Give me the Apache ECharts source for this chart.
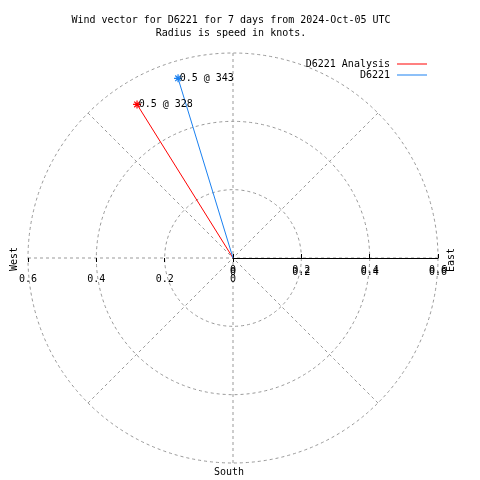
<!DOCTYPE html>
<html><head><meta charset="utf-8">
<script src="https://cdn.jsdelivr.net/npm/echarts@6/dist/echarts.min.js"></script>
<style>html,body{margin:0;padding:0;background:#fff}#c{width:480px;height:480px}</style>
</head><body><div id="c"></div>
<script>
// ---- data ----
const titleLines = ['Wind vector for D6221 for 7 days from 2024-Oct-05 UTC', 'Radius is speed in knots.'];
const seriesNames = ['D6221 Analysis', 'D6221'];
const speeds = [0.53, 0.55];          // knots
const directions = [328, 343];        // degrees (compass)
const pointLabels = ['0.5 @ 328', '0.5 @ 343'];
const radiusMax = 0.6;
const radiusStep = 0.2;
const compassLabels = {west: 'West', east: 'East', south: 'South'};
const colors = ['#ff0000', '#1a80f0'];

// ---- chart ----
const FONT = 'DejaVu Sans Mono';
const C = [233, 258];
const R = 205;
const grey = '#999999';
const asterisk = 'path://M0 5L10 5M5 0L5 10M1.5 1.5L8.5 8.5M8.5 1.5L1.5 8.5';

function radiusAxis(polarIndex, opts) {
  return Object.assign({
    polarIndex: polarIndex, min: 0, max: radiusMax, interval: radiusStep,
    axisLine: {show: false}, axisTick: {show: false}, axisLabel: {show: false},
    splitLine: {show: false}
  }, opts);
}
function angleAxis(polarIndex, startAngle, opts) {
  return Object.assign({
    polarIndex: polarIndex, min: 90, max: 450, interval: 45, startAngle: startAngle, clockwise: true,
    axisLine: {show: false}, axisTick: {show: false}, axisLabel: {show: false}, splitLine: {show: false}
  }, opts);
}
const labelStyle = {fontFamily: FONT, fontSize: 10, color: '#000'};

const chart = echarts.init(document.getElementById('c'), null, {renderer: 'canvas'});
const series = seriesNames.map((name, i) => ({
  name: name, type: 'line', coordinateSystem: 'polar', polarIndex: 0,
  showAllSymbol: true, animation: false,
  lineStyle: {color: colors[i], width: 1},
  itemStyle: {color: colors[i], borderColor: colors[i], borderWidth: 1.2},
  symbol: asterisk, symbolSize: 8,
  data: [
    {value: [0, directions[i]], symbol: 'none', label: {show: false}},
    {value: [speeds[i], directions[i]],
     label: Object.assign({show: true, position: 'right', distance: -3, formatter: pointLabels[i]}, labelStyle)}
  ],
  z: 5
}));

chart.setOption({
  animation: false,
  backgroundColor: '#fff',
  polar: [0, 1, 2, 3].map(() => ({center: C, radius: R})),
  angleAxis: [
    angleAxis(0, 0, {splitLine: {show: true, lineStyle: {color: grey, type: [3, 3], width: 1}}}),
    angleAxis(1, 180),
    angleAxis(2, 0),
    angleAxis(3, 180)
  ],
  radiusAxis: [
    radiusAxis(0, {
      axisLine: {show: true, lineStyle: {color: '#000', width: 1}},
      axisTick: {show: true, length: 4, lineStyle: {color: '#000'}},
      axisLabel: Object.assign({show: true, margin: -17}, labelStyle),
      splitLine: {show: true, lineStyle: {color: grey, type: [3, 3], width: 1}}
    }),
    radiusAxis(1, {
      axisTick: {show: true, length: 4, lineStyle: {color: '#000'}},
      axisLabel: Object.assign({show: true, margin: 16}, labelStyle)
    }),
    radiusAxis(2, {
      axisTick: {show: true, inside: true, length: 4, lineStyle: {color: '#000'}},
      axisLabel: Object.assign({show: true, margin: -19}, labelStyle)
    }),
    radiusAxis(3, {
      axisTick: {show: true, inside: true, length: 4, lineStyle: {color: '#000'}}
    })
  ],
  legend: {
    data: seriesNames, orient: 'vertical', right: 48, top: 54, align: 'right',
    icon: 'rect', itemWidth: 30, itemHeight: 1, itemGap: 1,
    itemStyle: {borderWidth: 0},
    textStyle: Object.assign({padding: [0, 2, 0, 0]}, labelStyle)
  },
  series: series,
  graphic: [
    {type: 'text', x: 231, y: 20, style: {text: titleLines[0], font: '10px "' + FONT + '"', fill: '#000', textAlign: 'center', textVerticalAlign: 'middle'}},
    {type: 'text', x: 231, y: 33, style: {text: titleLines[1], font: '10px "' + FONT + '"', fill: '#000', textAlign: 'center', textVerticalAlign: 'middle'}},
    {type: 'text', x: 14, y: 259, rotation: Math.PI / 2, style: {text: compassLabels.west, font: '10px "' + FONT + '"', fill: '#000', textAlign: 'center', textVerticalAlign: 'middle'}},
    {type: 'text', x: 451, y: 260, rotation: Math.PI / 2, style: {text: compassLabels.east, font: '10px "' + FONT + '"', fill: '#000', textAlign: 'center', textVerticalAlign: 'middle'}},
    {type: 'text', x: 229, y: 472, style: {text: compassLabels.south, font: '10px "' + FONT + '"', fill: '#000', textAlign: 'center', textVerticalAlign: 'middle'}}
  ]
});
</script>
</body></html>
